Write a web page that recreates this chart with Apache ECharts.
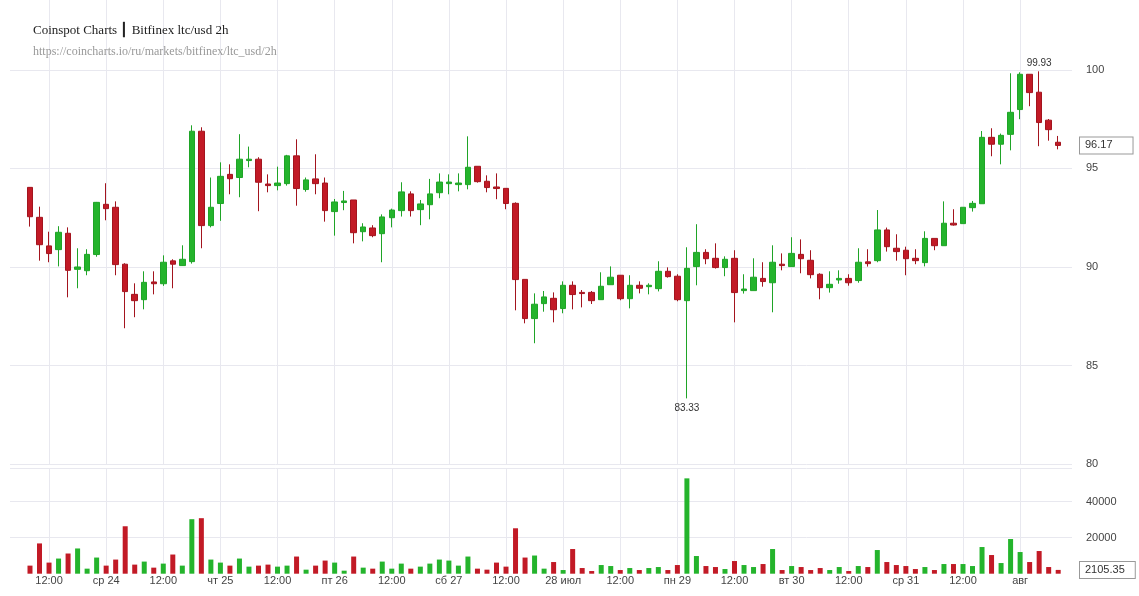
<!DOCTYPE html>
<html><head><meta charset="utf-8">
<script src="https://cdn.jsdelivr.net/npm/echarts@6/dist/echarts.min.js"></script>
<style>html,body{margin:0;padding:0;background:#fff}#c{width:1139px;height:596px}</style>
</head><body><div id="c"></div>
<script>
// Tick labels (one every 12h = 6 candles, first at candle index 2)
const tickLabels = ['12:00','ср 24','12:00','чт 25','12:00','пт 26','12:00','сб 27','12:00','28 июл','12:00','пн 29','12:00','вт 30','12:00','ср 31','12:00','авг'];
const tickStart = 2, tickStep = 6;

const opens = [94.04,92.52,91.07,90.88,91.71,89.88,89.81,90.63,93.18,93.03,90.14,88.61,88.34,89.24,89.15,90.31,90.07,90.27,96.89,92.10,
93.22,94.70,94.54,95.40,95.47,94.21,94.13,94.23,95.64,93.93,94.47,94.26,92.81,93.27,93.40,91.79,91.98,91.69,92.50,92.86,
93.71,92.91,93.16,93.77,94.23,94.18,94.18,95.11,94.35,94.06,93.99,93.23,89.37,87.38,88.14,88.41,87.89,89.07,88.71,88.71,
88.34,89.10,89.58,88.39,89.07,89.00,88.90,89.78,89.53,88.29,90.02,90.74,90.44,89.97,90.44,88.80,88.80,89.42,89.20,90.14,
90.02,90.64,90.34,89.63,88.95,89.34,89.42,89.31,90.26,90.32,91.88,90.95,90.85,90.44,90.22,91.45,91.08,92.22,92.20,93.01,
93.21,96.58,96.23,96.73,97.99,99.78,98.87,97.45,96.33];
const closes = [92.55,91.13,90.68,91.76,89.83,90.00,90.64,93.28,92.96,90.12,88.75,88.29,89.22,89.15,90.24,90.14,90.39,96.89,92.10,93.03,
94.60,94.48,95.47,95.47,94.30,94.13,94.26,95.64,93.98,94.42,94.23,92.86,93.30,93.35,91.74,92.03,91.59,92.54,92.89,93.81,
92.86,93.20,93.71,94.31,94.31,94.26,95.06,94.33,94.03,93.98,93.22,89.36,87.38,88.11,88.48,87.83,89.07,88.60,88.65,88.29,
89.02,89.48,88.39,89.07,88.92,89.07,89.78,89.51,88.34,89.93,90.74,90.42,89.97,90.39,88.70,88.88,89.48,89.26,90.24,90.07,
90.69,90.42,89.61,88.95,89.12,89.42,89.20,90.24,90.17,91.88,91.03,90.78,90.42,90.32,91.45,91.08,92.22,92.13,93.03,93.23,
96.58,96.23,96.68,97.85,99.78,98.85,97.33,96.97,96.17];
const lows = [92.05,90.32,90.24,90.03,88.46,88.92,89.58,90.52,92.37,89.58,86.89,87.45,87.85,88.61,89.04,88.92,90.05,90.17,90.95,92.01,
92.34,93.69,93.54,95.06,92.83,93.79,93.89,94.13,93.11,93.82,93.69,92.30,91.59,92.88,91.20,91.30,91.51,90.24,92.01,92.56,
92.56,92.12,92.42,93.49,93.69,93.84,93.94,94.28,93.79,93.44,92.93,87.80,87.14,86.13,87.73,87.19,87.65,87.85,87.95,88.12,
88.34,89.10,88.31,87.90,88.66,88.61,88.76,89.46,88.26,83.33,89.07,90.14,89.92,89.53,87.19,88.65,88.80,89.00,87.70,89.83,
90.02,89.68,89.42,88.36,88.70,89.15,89.05,89.20,90.02,90.24,90.78,90.32,89.58,90.14,90.03,90.85,91.08,92.10,92.20,92.81,
93.21,95.62,95.21,95.92,97.50,98.16,96.13,96.41,95.97];
const highs = [94.05,93.06,91.79,92.07,92.01,90.95,90.90,93.30,94.25,93.33,90.19,89.17,89.78,89.78,90.59,90.39,91.10,97.19,97.09,94.54,
95.31,95.21,96.74,96.11,95.57,94.70,95.09,95.69,96.48,94.54,95.72,94.54,93.45,93.86,93.40,92.22,92.12,92.67,92.96,94.30,
93.84,93.40,94.47,94.75,94.70,94.75,96.63,95.11,94.65,94.75,93.99,93.28,89.37,88.66,88.78,88.71,89.27,89.27,88.83,88.78,
89.73,90.03,89.58,89.58,89.27,89.17,90.29,89.98,89.63,91.00,92.17,90.90,91.20,90.54,90.85,89.63,90.44,90.24,91.10,90.69,
91.51,91.40,90.85,89.68,89.78,89.83,89.63,90.95,90.90,92.89,92.00,91.66,91.03,90.90,91.81,91.45,93.33,92.93,93.03,93.35,
96.90,97.04,96.77,99.83,99.88,99.78,99.93,97.51,96.65];
const volumes = [4486,16822,6168,8411,11215,14019,2804,8972,4486,7850,26355,5047,6729,3364,5607,10654,4486,30280,30840,7850,
6168,4486,8411,3925,4486,5047,3925,4486,9532,2243,4486,7289,6168,1682,9532,3364,2804,6729,2804,5607,
2804,3925,5607,7850,7289,4486,9532,2804,2243,6168,3925,25232,8972,10093,2804,6482,2037,13705,3148,1482,
4815,4260,2037,3148,2037,3148,3704,2037,4815,52967,9816,4260,3704,2593,7038,4815,3704,5371,13705,2037,
4260,3704,2037,3148,2037,3704,1482,4260,3704,13149,6482,4815,4260,2593,3704,2037,5371,5371,5371,4260,
14816,10371,5926,19261,12038,6482,12594,3704,2105.35];

const GREEN = '#24b42c', GREEN_B = '#1fa427', RED = '#c21a26', RED_B = '#a3141e';
const GRID_C = '#e8e8ef';
const LABEL_C = '#444';
const FONT = 'Liberation Sans, Arial, sans-serif';

const n = opens.length;
const candleData = opens.map((o, i) => [i, o, closes[i], lows[i], highs[i]]);
const volData = volumes.map((v, i) => ({
  value: [i, v],
  itemStyle: { color: closes[i] >= opens[i] ? GREEN : RED }
}));
const tickValues = tickLabels.map((_, k) => tickStart + k * tickStep);
let hiIdx = 0, loIdx = 0;
highs.forEach((h, i) => { if (h > highs[hiIdx]) hiIdx = i; });
lows.forEach((l, i) => { if (l < lows[loIdx]) loIdx = i; });
const lastPrice = closes[n - 1];
const lastVolume = volumes[n - 1];

const xMin = -2.1, xMax = n + 0.45;
const splitLine = { show: true, lineStyle: { color: GRID_C, width: 1 } };
const tagLabel = (text, padRight) => ({
  show: true, position: 'end', distance: 8, formatter: text,
  color: '#333', fontSize: 11, fontFamily: FONT, backgroundColor: '#fff',
  borderColor: '#999', borderWidth: 1, padding: [3, padRight, 2, 5]
});

const chart = echarts.init(document.getElementById('c'), null, { renderer: 'canvas' });
chart.setOption({
  animation: false,
  backgroundColor: '#fff',
  title: {
    text: 'Coinspot Charts ┃ Bitfinex ltc/usd 2h',
    subtext: 'https://coincharts.io/ru/markets/bitfinex/ltc_usd/2h',
    left: 28, top: 18, itemGap: 6,
    textStyle: { fontFamily: 'Liberation Serif, Times New Roman, serif', fontSize: 13, fontWeight: 'normal', color: '#222', lineHeight: 16 },
    subtextStyle: { fontFamily: 'Liberation Serif, Times New Roman, serif', fontSize: 12, color: '#999', lineHeight: 14 }
  },
  grid: [
    { left: 10, right: 67, top: 0, height: 464 },
    { left: 10, right: 67, top: 468, height: 105.7 }
  ],
  xAxis: [
    { type: 'value', gridIndex: 0, min: xMin, max: xMax,
      axisLine: { show: false }, axisTick: { show: false, customValues: tickValues },
      axisLabel: { show: false, customValues: tickValues }, splitLine },
    { type: 'value', gridIndex: 1, min: xMin, max: xMax,
      axisLine: { show: false }, axisTick: { show: false, customValues: tickValues },
      axisLabel: { show: true, customValues: tickValues, margin: 2, color: LABEL_C, fontSize: 11, fontFamily: FONT,
        formatter: v => tickLabels[Math.round((v - tickStart) / tickStep)] || '' },
      splitLine }
  ],
  yAxis: [
    { type: 'value', gridIndex: 0, position: 'right', min: 80, max: 103.55, interval: 5,
      axisLine: { show: false }, axisTick: { show: false },
      axisLabel: { color: LABEL_C, fontSize: 11, fontFamily: FONT, margin: 14, showMaxLabel: false },
      splitLine: { show: true, showMaxLine: false, lineStyle: { color: GRID_C, width: 1 } } },
    { type: 'value', gridIndex: 1, position: 'right', min: 0, max: 58722, interval: 20000,
      axisLine: { show: false }, axisTick: { show: false },
      axisLabel: { color: LABEL_C, fontSize: 11, fontFamily: FONT, margin: 14, showMaxLabel: false, showMinLabel: false,
        formatter: v => String(v) },
      splitLine: { show: true, showMinLine: false, lineStyle: { color: GRID_C, width: 1 } } }
  ],
  series: [
    { type: 'candlestick', xAxisIndex: 0, yAxisIndex: 0, barWidth: 6,
      data: candleData,
      itemStyle: { color: GREEN, color0: RED, borderColor: GREEN_B, borderColor0: RED_B, borderWidth: 1 },
      markPoint: {
        symbol: 'circle', symbolSize: 0,
        label: { show: true, color: '#333', fontSize: 10, fontFamily: FONT },
        data: [
          { coord: [hiIdx, highs[hiIdx]], value: highs[hiIdx].toFixed(2), label: { position: 'top', distance: 3 } },
          { coord: [loIdx, lows[loIdx]], value: lows[loIdx].toFixed(2), label: { position: 'bottom', distance: 5 } }
        ]
      },
      markLine: {
        silent: true, symbol: 'none',
        lineStyle: { color: 'rgba(0,0,0,0)', width: 1 },
        label: tagLabel(lastPrice.toFixed(2), 20),
        data: [{ yAxis: lastPrice }]
      }
    },
    { type: 'bar', xAxisIndex: 1, yAxisIndex: 1, barWidth: 5,
      data: volData,
      markLine: {
        silent: true, symbol: 'none',
        lineStyle: { color: 'rgba(0,0,0,0)', width: 1 },
        label: tagLabel(String(lastVolume), 10),
        data: [{ yAxis: lastVolume }]
      }
    }
  ]
});
</script></body></html>
